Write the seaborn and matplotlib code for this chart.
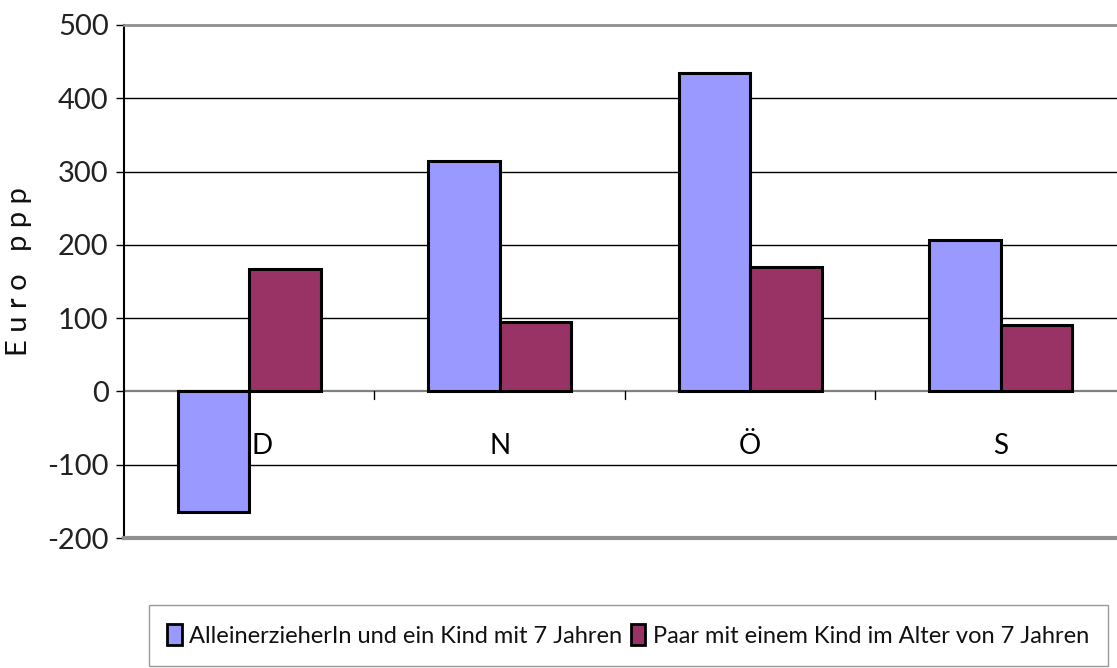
import matplotlib
matplotlib.use("Agg")
import matplotlib.pyplot as plt
from matplotlib import font_manager
import seaborn as sns
import pandas as pd

categories = ["D", "N", "Ö", "S"]
series_names = ["AlleinerzieherIn und ein Kind mit 7 Jahren",
                "Paar mit einem Kind im Alter von 7 Jahren"]
alleinerziehend = [-165, 315, 435, 207]
paar = [167, 95, 170, 91]
y_ticks = [-200, -100, 0, 100, 200, 300, 400, 500]
colors = ["#9999FF", "#993366"]

sns.set_theme(style="white")
avail = {f.name for f in font_manager.fontManager.ttflist}
fam = "Lato" if "Lato" in avail else "DejaVu Sans"
plt.rcParams["font.family"] = [fam, "DejaVu Sans"]
plt.rcParams["text.color"] = "#111111"
plt.rcParams["axes.labelcolor"] = "#111111"

df = pd.DataFrame({
    "Land": categories * 2,
    "Wert": alleinerziehend + paar,
    "Serie": [series_names[0]] * 4 + [series_names[1]] * 4,
})

fig = plt.figure(figsize=(11.17, 6.68), dpi=100)
ax = fig.add_axes([0.111, 0.1946, 0.897, 0.768])

for v in y_ticks[1:-1]:
    if v == 0:
        ax.axhline(v, color="#808080", lw=1.6, zorder=0)
    else:
        ax.axhline(v, color="black", lw=1.0, zorder=0)

sns.barplot(data=df, x="Land", y="Wert", hue="Serie", hue_order=series_names,
            palette=colors, width=0.57, edgecolor="black", linewidth=2.2,
            saturation=1, ax=ax, legend=True, zorder=2)

ax.set_ylim(-200, 500)
ax.set_xlim(-0.5, 3.5)
ax.set_yticks(y_ticks)
ax.set_yticklabels([str(v) for v in y_ticks], fontsize=21, color="#222222")
ax.tick_params(axis="y", length=6, width=1, color="black", direction="out", pad=5, left=True)
ax.set_xticks([])
ax.set_xlabel("")
ax.set_ylabel("E u r o   p p p", fontsize=21, color="#111111")
ax.yaxis.set_label_coords(-0.092, 0.52)

for side in ["top", "bottom"]:
    ax.spines[side].set_visible(True)
    ax.spines[side].set_color("#909090")
ax.spines["top"].set_linewidth(2)
ax.spines["bottom"].set_linewidth(3)
ax.spines["left"].set_color("black")
ax.spines["left"].set_linewidth(1.5)
ax.spines["right"].set_visible(False)

# category boundary ticks on the zero line
for b in [0.5, 1.5, 2.5]:
    ax.plot([b, b], [0, -10], color="black", lw=1, zorder=1)

# category labels next to zero line
for i, c in enumerate(categories):
    ax.text(i + (0.05 if i == 0 else 0), -75, c, ha="center", va="center",
            fontsize=20, color="black")

ax.get_legend().remove()
handles, labels = ax.get_legend_handles_labels()
leg = fig.legend(handles, labels, loc="upper left",
                 bbox_to_anchor=(0.133, 0.094),
                 ncol=2, prop={"size": 17}, frameon=True,
                 fancybox=False,
                 handlelength=0.6, handleheight=1.0, handletextpad=0.3,
                 columnspacing=0.4, borderpad=0.8, borderaxespad=0)
leg.get_frame().set_edgecolor("#808080")
leg.get_frame().set_linewidth(1)
for h in leg.legend_handles:
    h.set_linewidth(2)
    h.set_edgecolor("black")

fig.savefig("out.png", dpi=100)
